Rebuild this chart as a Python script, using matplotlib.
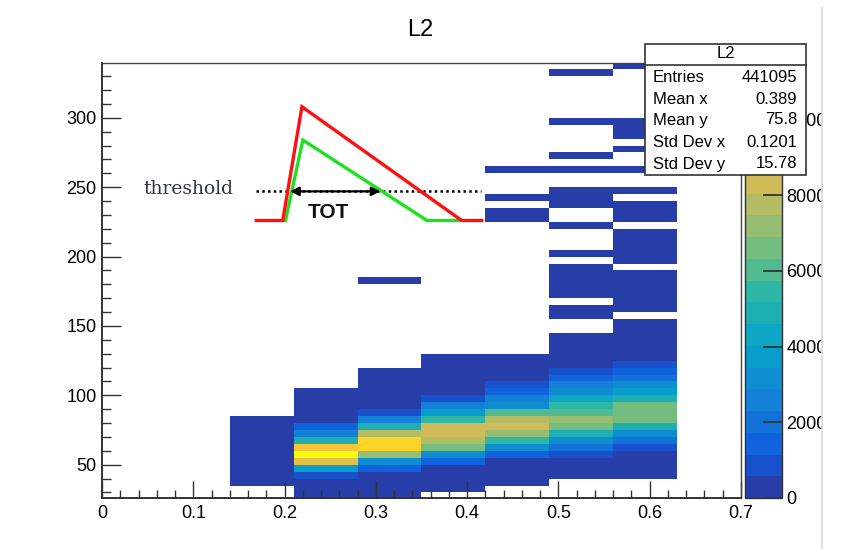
import numpy as np
import matplotlib
matplotlib.use("Agg")
import matplotlib.pyplot as plt
from matplotlib.colors import LinearSegmentedColormap, ListedColormap, BoundaryNorm
from matplotlib.patches import Rectangle
from matplotlib.lines import Line2D
from matplotlib.ticker import MultipleLocator, FuncFormatter

plt.rcParams["font.family"] = ["Liberation Sans", "DejaVu Sans"]

# ---------- DATA ----------
tot_edges = [0.0, 0.07, 0.14, 0.21, 0.28, 0.35, 0.42, 0.49, 0.56, 0.63, 0.70]
adc_edges = np.arange(0, 345, 5)
z_max = 11490

# filled columns: TOT lower edge, first ADC bin, counts going upward in 5-unit bins
col_tot = [0.14, 0.21, 0.28, 0.35, 0.42, 0.49, 0.56]
col_start = [35, 25, 25, 30, 35, 40, 40]
col_014 = [40, 120, 230, 330, 390, 360, 300, 210, 120, 50]
col_021 = [60, 180, 420, 900, 3700, 8900, 11300, 9500, 4900, 2600, 1300, 480, 260, 130, 60, 20]
col_028 = [120, 290, 470, 540, 1500, 3100, 7200, 10100, 10300, 7700, 4800, 2500, 950,
           500, 330, 220, 140, 80, 40]
col_035 = [60, 160, 330, 520, 1450, 3200, 6600, 7800, 8300, 8250, 5500, 3750, 2600, 1000,
           480, 300, 190, 110, 60, 25]
col_042 = [40, 110, 250, 430, 1400, 3150, 5450, 7150, 8350, 7650, 6000, 3000, 2550, 1350, 800,
           420, 250, 130, 50]
col_049 = [80, 210, 420, 850, 2000, 3100, 4900, 6500, 7100, 6050, 5400, 4300, 3050, 2450, 1450, 800,
           480, 330, 200, 120, 60]
col_056 = [60, 150, 300, 500, 900, 2050, 3200, 4850, 6550, 6700, 6450, 4700, 3800, 3000, 1900, 1400, 850,
           520, 420, 300, 220, 150, 90]

# isolated high-ADC bins
sparse_tot = [0.28,
              0.42, 0.42, 0.42, 0.42,
              0.49, 0.49, 0.49, 0.49, 0.49, 0.49, 0.49, 0.49, 0.49, 0.49, 0.49, 0.49, 0.49, 0.49, 0.49, 0.49,
              0.56, 0.56, 0.56, 0.56, 0.56, 0.56, 0.56, 0.56, 0.56, 0.56, 0.56, 0.56, 0.56, 0.56, 0.56, 0.56,
              0.56, 0.56, 0.56, 0.56, 0.56]
sparse_adc = [180,
              225, 230, 240, 260,
              155, 160, 170, 175, 180, 185, 190, 200, 220, 235, 240, 245, 260, 270, 295, 330,
              160, 165, 170, 175, 180, 185, 195, 200, 205, 210, 215, 225, 230, 235, 245, 260,
              275, 285, 290, 295, 335]
sparse_counts = [12,
                 9, 11, 8, 6,
                 60, 55, 48, 42, 37, 30, 26, 20, 16, 14, 12, 11, 8, 6, 4, 2,
                 70, 62, 55, 47, 40, 34, 28, 24, 20, 17, 15, 12, 11, 10, 8, 6,
                 5, 4, 3, 3, 2]

stats_names = ["Entries", "Mean x", "Mean y", "Std Dev x", "Std Dev y"]
stats_values = ["441095", "0.389", "75.8", "0.1201", "15.78"]

# schematic pulses drawn on top of the histogram
red_pulse_x = [0.169, 0.198, 0.219, 0.394, 0.416]
red_pulse_y = [226, 226, 308, 226, 226]
green_pulse_x = [0.201, 0.220, 0.356, 0.392]
green_pulse_y = [226, 284, 226, 226]
threshold_y = 247
threshold_x = [0.169, 0.415]
tot_arrow_x = [0.206, 0.305]

# ---------- BUILD HISTOGRAM ----------
H = np.zeros((len(adc_edges) - 1, len(tot_edges) - 1))
columns = [col_014, col_021, col_028, col_035, col_042, col_049, col_056]
for t, start, counts in zip(col_tot, col_start, columns):
    ix = int(round(t / 0.07))
    iy = start // 5
    H[iy:iy + len(counts), ix] = counts
for t, a, c in zip(sparse_tot, sparse_adc, sparse_counts):
    H[a // 5, int(round(t / 0.07))] = c

# ROOT kBird palette, 20 contour levels
stops = [0.0, 0.125, 0.25, 0.375, 0.5, 0.625, 0.75, 0.875, 1.0]
red = [0.2082, 0.0592, 0.0780, 0.0232, 0.1802, 0.5301, 0.8186, 0.9956, 0.9764]
green = [0.1664, 0.3599, 0.5041, 0.6419, 0.7178, 0.7492, 0.7328, 0.7862, 0.9832]
blue = [0.5293, 0.8684, 0.8385, 0.7914, 0.6425, 0.4662, 0.3499, 0.1968, 0.0539]
bird = LinearSegmentedColormap.from_list("bird", list(zip(stops, zip(red, green, blue))), N=255)
cmap = ListedColormap([bird(int((k + 0.99) * 255 / 20)) for k in range(20)])
norm = BoundaryNorm(np.linspace(0, z_max, 21), 20)

# ---------- PLOT ----------
fig = plt.figure(figsize=(8.43, 5.49), dpi=100)
ax = fig.add_axes([102 / 843, 51 / 549, 639 / 843, 435 / 549])

mesh = ax.pcolormesh(tot_edges, adc_edges, np.ma.masked_equal(H, 0), cmap=cmap, norm=norm,
                     shading="flat", antialiased=False, edgecolors="none")
ax.set_xlim(0, 0.7)
ax.set_ylim(26, 339.5)

ax.set_xticks(np.arange(0, 0.71, 0.1))
ax.xaxis.set_major_formatter(FuncFormatter(lambda v, p: f"{v:g}"))
ax.xaxis.set_minor_locator(MultipleLocator(0.02))
ax.set_yticks(np.arange(50, 301, 50))
ax.yaxis.set_minor_locator(MultipleLocator(10))
ax.tick_params(axis="x", which="major", direction="in", length=12, width=1, pad=5,
               labelsize=13, color="#333333")
ax.tick_params(axis="x", which="minor", direction="in", length=6, width=1, color="#333333")
ax.tick_params(axis="y", which="major", direction="in", length=13.5, width=1, pad=4,
               labelsize=13, color="#333333")
ax.tick_params(axis="y", which="minor", direction="in", length=6.8, width=1, color="#333333")
for side in ["left", "bottom"]:
    ax.spines[side].set_linewidth(1.4)
    ax.spines[side].set_color("#333333")
for side in ["top", "right"]:
    ax.spines[side].set_linewidth(1.0)
    ax.spines[side].set_color("#444444")

# pulse sketch
ax.plot(threshold_x, [threshold_y, threshold_y], color="black", lw=1.8,
        linestyle=(0, (1, 1.3)), zorder=3)
ax.plot(green_pulse_x, green_pulse_y, color="#1fe01f", lw=2.4, solid_joinstyle="miter", zorder=4)
ax.plot(red_pulse_x, red_pulse_y, color="#ff1010", lw=2.4, solid_joinstyle="miter", zorder=5)
ax.annotate("", xy=(tot_arrow_x[1], threshold_y), xytext=(tot_arrow_x[0], threshold_y),
            arrowprops=dict(arrowstyle="<|-|>", color="black", lw=1.6, mutation_scale=13,
                            shrinkA=0, shrinkB=0), zorder=6)
ax.text(0.2477, 231.5, "TOT", ha="center", va="center", fontsize=15, fontweight="bold",
        color="#111111", zorder=6)
ax.text(0.0951, 248.5, "threshold", ha="center", va="center", fontsize=13.5,
        family="DejaVu Serif", color="#2e3545", zorder=6)

# palette
cax = fig.add_axes([745 / 843, 51 / 549, 37 / 843, 435 / 549])
cb = fig.colorbar(mesh, cax=cax, ticks=[0, 2000, 4000, 6000, 8000, 10000])
cb.minorticks_off()
cb.outline.set_linewidth(1.0)
cb.outline.set_edgecolor("#333333")
cax.yaxis.set_major_formatter(FuncFormatter(lambda v, p: f"{v:.0f}"))
cax.tick_params(direction="in", length=14, width=1.3, pad=3, labelsize=13, color="#333333")

fig.text(420 / 843, 1 - 30 / 549, "L2", ha="center", va="center", fontsize=17)

# stats box
bx0, by0, bw, bh = 645 / 843, 1 - 175 / 549, 161 / 843, 131 / 549
fig.add_artist(Rectangle((bx0, by0), bw, bh, transform=fig.transFigure, facecolor="white",
                         edgecolor="#333333", lw=1.2, zorder=5))
fig.add_artist(Line2D([bx0, bx0 + bw], [1 - 65 / 549] * 2, transform=fig.transFigure,
                      color="#333333", lw=1.2, zorder=6))
fig.text(bx0 + bw / 2, 1 - 54 / 549, "L2", ha="center", va="center", fontsize=12, zorder=7)
row_y = [77, 99, 120, 143, 164]
for name, val, yy in zip(stats_names, stats_values, row_y):
    fig.text(653 / 843, 1 - yy / 549, name, ha="left", va="center", fontsize=12, zorder=7)
    fig.text(797 / 843, 1 - yy / 549, val, ha="right", va="center", fontsize=12, zorder=7)

# canvas edge on the right
fig.add_artist(Rectangle((822 / 843, 0), 21 / 843, 1, transform=fig.transFigure,
                         facecolor="white", edgecolor="none", zorder=8))
fig.add_artist(Line2D([822 / 843] * 2, [0, 1 - 8 / 549], transform=fig.transFigure,
                      color="#d8d8d8", lw=1.2, zorder=9))

fig.savefig("out.png", dpi=100)
